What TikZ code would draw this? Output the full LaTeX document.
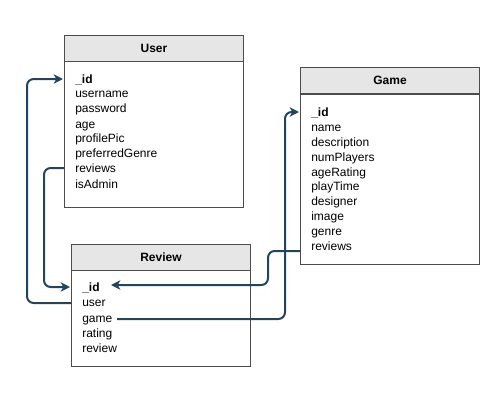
\documentclass[tikz,border=0pt]{standalone}
\usepackage{fontspec}
\setmainfont{Liberation Sans}
\usetikzlibrary{arrows.meta}
\definecolor{conncol}{HTML}{23445D}
\definecolor{hdrfill}{HTML}{E6E6E6}
\begin{document}
\begin{tikzpicture}[x=0.75pt,y=-0.75pt,
  hdr/.style={draw=black!70, fill=hdrfill, line width=0.75pt, anchor=north west, inner sep=0pt,
    minimum width=134.25pt, minimum height=19.5pt, font=\bfseries\fontsize{9}{11}\selectfont},
  bodybox/.style={draw=black!70, fill=white, line width=0.75pt, anchor=north west, inner sep=0pt, minimum width=134.25pt},
  field/.style={anchor=west, inner sep=0pt, yshift=-1.1pt, text height=6.6pt, text depth=1.9pt, font=\fontsize{9}{11}\selectfont},
  idfield/.style={field, font=\bfseries\fontsize{9}{11}\selectfont},
  conn/.style={draw=conncol, line width=1.5pt, rounded corners=5pt, -{Stealth[length=7pt,width=7pt,inset=2pt]}},
  plainconn/.style={draw=conncol, line width=1.5pt, rounded corners=5pt}
]
\useasboundingbox (0,0) rectangle (501,411);
% User
\node[bodybox, minimum height=109.5pt] (ubody) at (64,61) {};
\node[hdr] (uhdr) at (64,35) {User};
\node[idfield] (uid) at (75,79) {\_id};
\node[field] (uusername) at (75,93) {username};
\node[field] (upassword) at (75,108) {password};
\node[field] (uage) at (75,124) {age};
\node[field] (upic) at (75,138) {profilePic};
\node[field] (ugenre) at (75,153) {preferredGenre};
\node[field] (ureviews) at (75,168) {reviews};
\node[field] (uadmin) at (75,184) {isAdmin};
% Game
\node[bodybox, minimum height=127.5pt] (gbody) at (300,94) {};
\node[hdr] (ghdr) at (300,67) {Game};
\node[idfield] (gid) at (311,112) {\_id};
\node[field] (gname) at (311,127) {name};
\node[field] (gdesc) at (311,142) {description};
\node[field] (gnum) at (311,157) {numPlayers};
\node[field] (gage) at (311,172) {ageRating};
\node[field] (gplay) at (311,186) {playTime};
\node[field] (gdesigner) at (311,201) {designer};
\node[field] (gimage) at (311,216) {image};
\node[field] (ggenre) at (311,231) {genre};
\node[field] (greviews) at (311,246) {reviews};
% Review
\node[bodybox, minimum height=72pt] (rbody) at (71,270) {};
\node[hdr] (rhdr) at (71,244) {Review};
\node[idfield] (rid) at (82,287) {\_id};
\node[field] (ruser) at (82,302) {user};
\node[field] (rgame) at (82,318) {game};
\node[field] (rrating) at (82,333) {rating};
\node[field] (rreview) at (82,348) {review};
% connector anchors
\coordinate (uidL) at (63,79);
\coordinate (urevL) at (64,168);
\coordinate (ridL) at (70,287);
\coordinate (ruserL) at (71,303);
\coordinate (ridR) at (111,285);
\coordinate (grevL) at (300,251);
\coordinate (rgameR) at (117,319);
\coordinate (gidL) at (299,112);
\coordinate (b1) at (27,303);
\coordinate (b2) at (44,168);
\coordinate (b3) at (268,251);
\coordinate (b4) at (285,319);
% connectors
\draw[conn] (ruserL) -- (b1) |- (uidL);
\draw[conn] (urevL) -- (b2) |- (ridL);
\draw[conn] (grevL) -- (b3) |- (ridR);
\draw[conn] (rgameR) -- (b4) |- (gidL);
\end{tikzpicture}
\end{document}
